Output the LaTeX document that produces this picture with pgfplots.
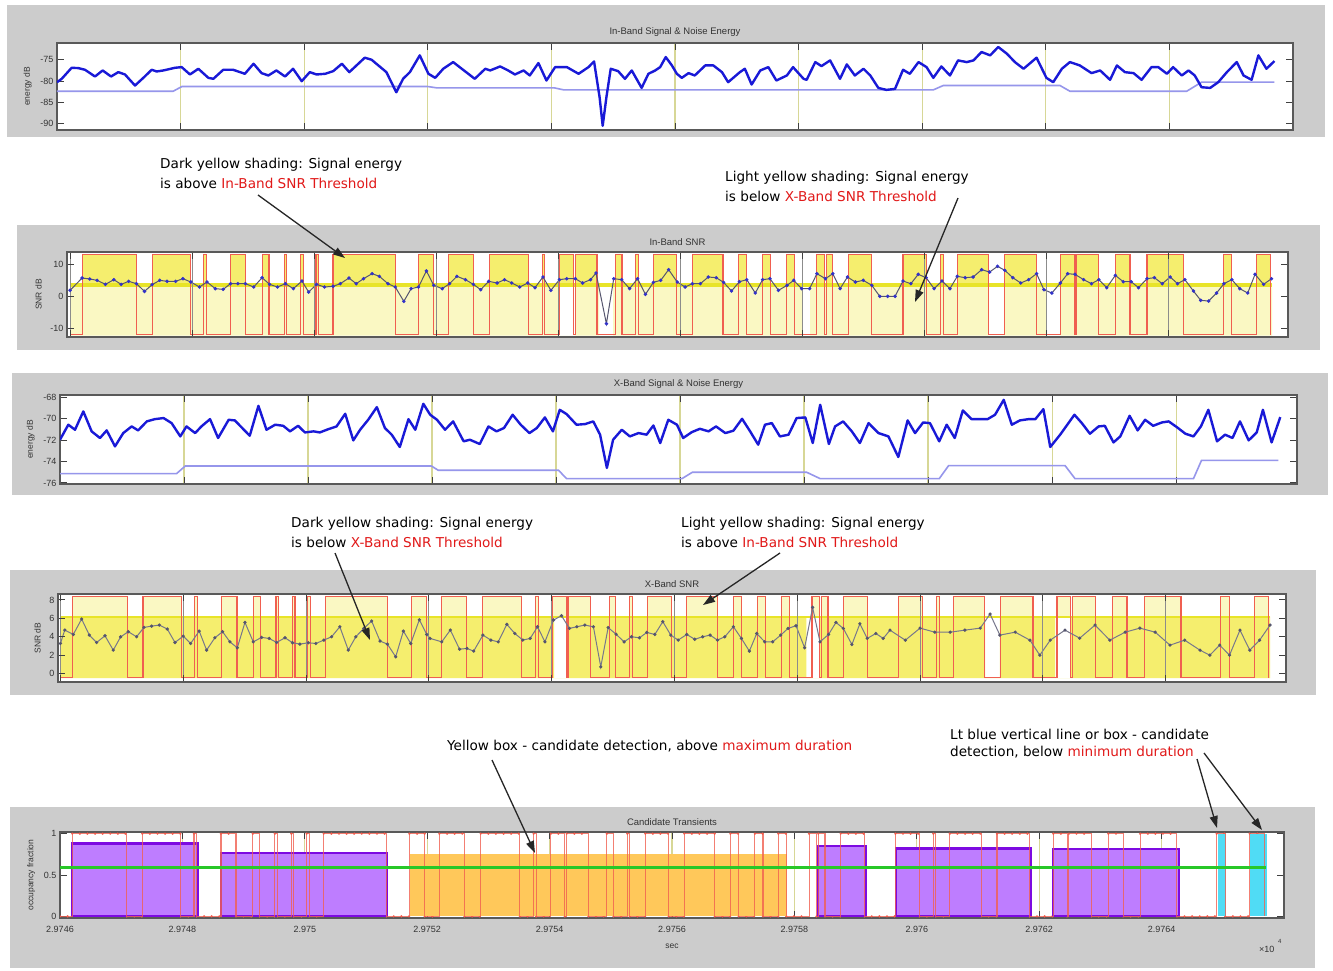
\documentclass[border=0pt]{standalone}
\usepackage{fontspec}
\setmainfont{Liberation Sans}
\newfontfamily\annfont{DejaVu Sans}
\usepackage{pgfplots}
\pgfplotsset{compat=1.18}
\usepackage{pgfplotstable}
\usetikzlibrary{arrows.meta}

\definecolor{bggray}{RGB}{204,204,204}
\definecolor{sigblue}{RGB}{25,25,215}
\definecolor{noiseblue}{RGB}{150,150,235}
\definecolor{gridyel}{RGB}{215,215,150}
\definecolor{dkyel}{RGB}{245,238,110}
\definecolor{ltyel}{RGB}{250,248,195}
\definecolor{thryel}{RGB}{232,228,40}
\definecolor{boxred}{RGB}{240,95,80}
\definecolor{snrline}{RGB}{85,85,110}
\definecolor{dotblue}{RGB}{50,50,200}
\definecolor{purp}{RGB}{190,125,255}
\definecolor{purpedge}{RGB}{125,10,225}
\definecolor{orng}{RGB}{255,200,90}
\definecolor{cyanb}{RGB}{80,220,245}
\definecolor{grn}{RGB}{40,200,40}
\definecolor{annred}{RGB}{225,25,25}

% in-band detection steps: t, panel-2 red, panel-2 fill, panel-4 red, panel-4 fill, panel-5 state
\pgfplotstableread{
t r2 f2 r4 f4 s5
0 -12 3.65 -0.44 6.18 0
0.2 13 13 8.36 8.36 1
1.09 -12 3.65 -0.44 6.18 0
1.345 13 13 8.36 8.36 1
1.97 -12 3.65 -0.44 6.18 0
2.19 13 13 8.36 8.36 1
2.23 -12 3.65 -0.44 6.18 0
2.63 13 13 8.36 8.36 1
2.875 -12 3.65 -0.44 6.18 0
3.15 13 13 8.36 8.36 1
3.26 -12 3.65 -0.44 6.18 0
3.51 13 13 8.36 8.36 1
3.55 -12 3.65 -0.44 6.18 0
3.78 13 13 8.36 8.36 1
3.82 -12 3.65 -0.44 6.18 0
4.03 13 13 8.36 8.36 1
4.07 -12 3.65 -0.44 6.18 0
4.31 13 13 8.36 8.36 1
5.33 -12 3.65 -0.44 6.18 0
5.71 13 13 8.36 8.36 1
5.96 -12 3.65 -0.44 6.18 0
6.2 13 13 8.36 8.36 1
6.61 -12 3.65 -0.44 6.18 0
6.875 13 13 8.36 8.36 1
7.515 -12 3.65 -0.44 6.18 0
7.74 13 13 8.36 8.36 1
7.78 -12 3.65 -0.44 6.18 0
8.02 13 13 8.36 8.36 1
8.25 -12 3.65 -0.44 6.18 0
8.28 13 13 8.36 8.36 1
8.635 -12 3.65 -0.44 6.18 0
8.935 13 13 8.36 8.36 1
9.045 -12 3.65 -0.44 6.18 0
9.27 13 13 8.36 8.36 1
9.31 -12 3.65 -0.44 6.18 0
9.563 13 13 8.36 8.36 1
9.946 -12 3.65 -0.44 6.18 0
10.2 13 13 8.36 8.36 1
10.7 -12 3.65 -0.44 6.18 0
10.955 13 13 8.36 8.36 1
11.09 -12 3.65 -0.44 6.18 0
11.355 13 13 8.36 8.36 1
11.486 -12 3.65 -0.44 6.18 0
11.737 13 13 8.36 8.36 1
11.868 -12 3.65 -0.44 6.18 0
12.24 13 13 8.36 8.36 1
12.36 -12 3.65 -0.44 6.18 0
12.39 13 13 8.36 8.36 1
12.5 -12 3.65 -0.44 6.18 0
12.757 13 13 8.36 8.36 1
13.14 -12 3.65 -0.44 6.18 0
13.65 13 13 8.36 8.36 1
14.04 -12 3.65 -0.44 6.18 0
14.27 13 13 8.36 8.36 1
14.31 -12 3.65 -0.44 6.18 0
14.54 13 13 8.36 8.36 1
15.05 -12 3.65 -0.44 6.18 0
15.31 13 13 8.36 8.36 1
15.84 -12 3.65 -0.44 6.18 0
16.23 13 13 8.36 8.36 1
16.455 -12 3.65 -0.44 6.18 0
16.485 13 13 8.36 8.36 1
16.85 -12 3.65 -0.44 6.18 0
17.13 13 13 8.36 8.36 1
17.37 -12 3.65 -0.44 6.18 0
17.65 13 13 8.36 8.36 1
18.25 -12 3.65 -0.44 6.18 0
18.9 13 13 8.36 8.36 1
19.04 -12 3.65 -0.44 6.18 0
19.44 13 13 8.36 8.36 1
19.68 -12 3.65 -0.44 6.18 0
}\dettab

\pgfplotsset{
 panel/.style={
  scale only axis,
  xtick={0,2,...,20}, xticklabels={},
  tick pos=both, xticklabel pos=lower, yticklabel pos=left,
  tick align=inside, major tick length=7pt,
  xmajorgrids, major grid style={draw=gridyel, line width=1.2pt},
  axis line style={draw=black!65, line width=1.2pt},
  every tick/.style={draw=black!75, line width=1pt},
  tick label style={font=\fontsize{9}{10}\selectfont, text=black!80},
  /pgf/number format/assume math mode=true,
  title style={font=\fontsize{9.5}{10}\selectfont, text=black!80, yshift=-3pt},
  ylabel style={font=\fontsize{8.5}{9}\selectfont, text=black!80, yshift=2pt},
  xlabel style={font=\fontsize{8.5}{9}\selectfont, text=black!80},
  axis background/.style={fill=white},
 }
}

\begin{document}
\begin{tikzpicture}
\fill[white] (0pt,0pt) rectangle (1333pt,-970pt);
\fill[bggray] (7pt,-5pt) rectangle (1325pt,-137pt);
\fill[bggray] (17pt,-225pt) rectangle (1320pt,-350pt);
\fill[bggray] (12pt,-373pt) rectangle (1328pt,-495pt);
\fill[bggray] (10pt,-570pt) rectangle (1316pt,-695pt);
\fill[bggray] (10pt,-807pt) rectangle (1315pt,-968pt);

% ---------------- Panel 1 ----------------
\begin{axis}[panel, at={(57pt,-130pt)}, anchor=south west, width=1236pt, height=87pt,
  xmin=0, xmax=20, ymin=-91.6, ymax=-71, ytick={-90,-85,-80,-75},
  title={In-Band Signal \& Noise Energy}, ylabel={energy dB}]
\addplot[noiseblue, line width=1.6pt] coordinates {
(0,-82.42)(1.88,-82.42)(2.02,-81.31)(6.0,-81.31)(6.15,-81.63)(8.05,-81.63)(8.2,-82.1)(14.18,-82.1)(14.34,-81.07)(16.23,-81.07)(16.39,-82.42)(18.28,-82.42)(18.52,-80.28)(19.7,-80.28)};
\addplot[sigblue, line width=2.4pt, line join=round] coordinates {
(0,-80.28)(0.076,-79.48)(0.237,-76.87)(0.345,-76.94)(0.453,-77.34)(0.615,-78.93)(0.739,-77.5)(0.874,-78.93)(0.992,-77.9)(1.1,-78.45)(1.262,-81.07)(1.397,-79.25)(1.532,-77.34)(1.613,-77.74)(1.721,-77.5)(1.909,-76.87)(2.017,-76.71)(2.152,-78.45)(2.287,-77.1)(2.449,-79.25)(2.53,-79.48)(2.69,-77.34)(2.85,-77.34)(3.04,-78.29)(3.18,-75.91)(3.31,-78.13)(3.42,-78.69)(3.55,-77.5)(3.69,-78.93)(3.82,-77.1)(3.96,-80.04)(4.09,-77.9)(4.20,-78.45)(4.34,-78.29)(4.47,-77.66)(4.61,-75.91)(4.73,-77.9)(4.98,-74.48)(5.09,-74.96)(5.20,-76.31)(5.33,-77.9)(5.49,-82.66)(5.60,-79.48)(5.71,-77.9)(5.87,-73.93)(6.01,-78.29)(6.12,-79.25)(6.25,-77.1)(6.41,-75.52)(6.76,-79.48)(6.93,-77.1)(7.01,-77.5)(7.17,-76.55)(7.30,-77.5)(7.41,-78.45)(7.55,-77.5)(7.65,-78.69)(7.79,-75.75)(7.92,-79.88)(8.06,-76.71)(8.25,-76.71)(8.44,-78.29)(8.60,-76.71)(8.69,-75.36)(8.78,-83.85)(8.83,-90.6)(8.89,-83.85)(8.96,-77.1)(9.08,-77.66)(9.19,-79.48)(9.30,-77.5)(9.46,-81.63)(9.57,-78.29)(9.68,-77.5)(9.76,-76.71)(9.85,-74.33)(9.95,-76.31)(10.03,-78.29)(10.11,-79.25)(10.22,-78.13)(10.32,-78.69)(10.49,-76.31)(10.62,-76.31)(10.76,-77.9)(10.86,-80.28)(11.05,-77.9)(11.13,-77.1)(11.24,-80.83)(11.38,-77.5)(11.51,-76.71)(11.64,-79.88)(11.81,-78.69)(11.91,-76.71)(12.08,-79.48)(12.13,-79.72)(12.27,-75.52)(12.37,-76.47)(12.51,-75.12)(12.67,-79.48)(12.78,-76.07)(12.91,-78.69)(13.05,-77.1)(13.16,-78.69)(13.29,-81.63)(13.42,-82.1)(13.56,-81.87)(13.69,-77.34)(13.80,-78.29)(13.94,-75.52)(14.07,-76.71)(14.18,-79.25)(14.31,-76.55)(14.45,-78.69)(14.58,-75.12)(14.72,-75.52)(14.83,-75.12)(14.96,-73.13)(15.10,-73.93)(15.23,-71.94)(15.37,-73.53)(15.50,-75.52)(15.64,-77.1)(15.85,-74.48)(16.01,-79.25)(16.12,-80.28)(16.26,-77.1)(16.39,-75.52)(16.55,-76.31)(16.74,-78.13)(16.88,-77.5)(17.04,-79.72)(17.15,-76.31)(17.28,-77.9)(17.42,-78.13)(17.55,-79.72)(17.71,-76.71)(17.82,-76.71)(17.96,-78.29)(18.06,-76.71)(18.20,-78.69)(18.31,-77.5)(18.41,-78.69)(18.52,-81.47)(18.66,-81.63)(18.79,-80.28)(18.93,-77.9)(19.09,-75.52)(19.20,-78.69)(19.33,-79.72)(19.44,-73.93)(19.57,-77.1)(19.70,-75.28)};
\end{axis}

% ---------------- Panel 2 ----------------
\begin{axis}[panel, axis on top, at={(67pt,-337pt)}, anchor=south west, width=1221pt, height=85pt,
  xmin=-0.05, xmax=19.96, ymin=-12.7, ymax=13.85, ytick={-10,0,10},
  major grid style={draw=black!45, line width=1pt},
  title={In-Band SNR}, ylabel={SNR dB}]
\addplot[const plot mark left, fill=ltyel, draw=none] coordinates {
(0,-12.3)(0,3.65)(8.0,-12.3)(8.28,3.65)(8.67,-12.3)(8.9,3.65)(12.0,-12.3)(12.13,3.65)(15.05,-12.3)(15.31,3.65)(16.01,-12.3)(16.23,3.65)(19.7,3.65)(19.7,-12.3)} -- cycle;
\addplot[const plot mark left, fill=dkyel, draw=none] table[x=t, y=f2] {\dettab} -- cycle;
\addplot[thryel, line width=4pt] coordinates {(0,3.65)(19.7,3.65)};
\addplot[const plot mark left, boxred, line width=1.1pt] table[x=t, y=r2] {\dettab};
\addplot[snrline, line width=1pt, mark=*, mark size=1.2pt, mark options={fill=dotblue, draw=dotblue}] coordinates {
(0,1.875)(0.198,5.73)(0.324,5.42)(0.444,5.0)(0.58,3.75)(0.717,5.21)(0.837,3.75)(0.96,4.69)(1.088,3.96)(1.22,1.56)(1.345,3.65)(1.47,5.0)(1.59,4.69)(1.73,4.69)(1.85,5.52)(1.98,4.48)(2.12,2.92)(2.245,4.48)(2.38,2.4)(2.51,2.19)(2.63,3.96)(2.75,3.96)(2.874,3.96)(3.01,2.92)(3.147,5.83)(3.27,3.75)(3.40,2.92)(3.53,3.96)(3.66,2.4)(3.80,4.79)(3.91,1.35)(4.04,3.75)(4.17,2.92)(4.31,3.13)(4.43,3.96)(4.57,5.73)(4.69,3.96)(4.81,5.52)(4.95,7.08)(5.07,6.25)(5.21,3.96)(5.33,2.92)(5.47,-1.56)(5.59,2.4)(5.71,2.92)(5.84,7.92)(5.96,3.44)(6.10,2.4)(6.22,3.96)(6.34,6.25)(6.48,5.21)(6.61,3.75)(6.73,2.08)(6.86,4.69)(6.999,4.17)(7.12,5.21)(7.24,4.17)(7.37,2.92)(7.50,4.17)(7.62,2.71)(7.75,6.04)(7.88,1.875)(8.02,5.21)(8.14,5.52)(8.28,5.52)(8.40,4.17)(8.53,5.21)(8.62,7.29)(8.79,-8.54)(8.91,5.52)(9.04,5.21)(9.17,2.4)(9.30,5.52)(9.43,0.625)(9.56,4.375)(9.68,5.0)(9.81,8.33)(9.95,4.48)(10.08,2.92)(10.20,3.96)(10.33,3.96)(10.46,6.04)(10.59,5.83)(10.71,4.375)(10.84,1.67)(10.97,4.58)(11.09,5.21)(11.23,1.04)(11.35,5.21)(11.47,5.52)(11.61,1.875)(11.75,3.44)(11.86,5.0)(11.99,2.4)(12.12,2.4)(12.24,7.08)(12.38,5.52)(12.50,7.08)(12.62,2.4)(12.74,6.04)(12.87,4.48)(13.0,5.0)(13.14,3.44)(13.27,0)(13.40,0)(13.52,0)(13.65,4.79)(13.78,3.96)(13.90,6.875)(14.03,5.83)(14.16,2.4)(14.29,4.79)(14.42,2.4)(14.54,6.25)(14.67,5.83)(14.80,6.04)(14.94,8.33)(15.07,7.6)(15.20,9.375)(15.32,8.125)(15.45,5.83)(15.58,4.17)(15.71,5.21)(15.84,7.08)(15.96,2.08)(16.09,1.04)(16.23,4.17)(16.35,7.08)(16.47,6.875)(16.61,5.21)(16.74,3.96)(16.86,5.21)(16.99,2.71)(17.13,6.56)(17.26,4.58)(17.39,4.58)(17.51,2.71)(17.65,5.52)(17.77,5.83)(17.90,3.96)(18.03,6.04)(18.15,3.96)(18.27,5.21)(18.41,1.67)(18.53,-1.25)(18.66,-1.46)(18.79,1.04)(18.91,3.96)(19.04,5.21)(19.17,2.4)(19.30,1.04)(19.42,6.875)(19.56,3.75)(19.69,5.52)};
\end{axis}

% ---------------- Panel 3 ----------------
\begin{axis}[panel, at={(60pt,-484pt)}, anchor=south west, width=1237pt, height=89pt,
  xmin=0, xmax=19.95, ymin=-76.1, ymax=-67.8, ytick={-76,-74,-72,-70,-68},
  title={X-Band Signal \& Noise Energy}, ylabel={energy dB}]
\addplot[noiseblue, line width=1.6pt] coordinates {
(0,-75.13)(1.88,-75.13)(2.02,-74.42)(5.99,-74.42)(6.1,-74.82)(8.04,-74.82)(8.17,-75.6)(10.03,-75.6)(10.2,-75.0)(12.04,-75.0)(12.26,-75.6)(14.18,-75.6)(14.33,-74.39)(16.21,-74.39)(16.37,-75.6)(18.28,-75.6)(18.41,-73.89)(19.65,-73.89)};
\addplot[sigblue, line width=2.4pt, line join=round] coordinates {
(0,-71.97)(0.134,-70.57)(0.242,-71.04)(0.376,-69.33)(0.51,-71.19)(0.645,-71.81)(0.753,-71.1)(0.887,-72.59)(1.02,-71.35)(1.156,-70.73)(1.26,-71.1)(1.40,-70.26)(1.53,-70.05)(1.67,-69.95)(1.80,-70.42)(1.94,-71.66)(2.04,-70.73)(2.18,-71.35)(2.28,-70.73)(2.42,-70.05)(2.55,-71.81)(2.72,-70.11)(2.82,-70.17)(3.06,-71.6)(3.20,-68.81)(3.33,-71.04)(3.47,-70.57)(3.60,-70.67)(3.71,-71.19)(3.84,-70.67)(3.95,-71.29)(4.09,-71.19)(4.19,-71.29)(4.33,-70.98)(4.46,-70.73)(4.60,-69.55)(4.73,-72.03)(4.84,-71.04)(4.97,-70.11)(5.11,-68.93)(5.24,-70.88)(5.35,-71.5)(5.48,-72.65)(5.62,-70.05)(5.73,-71.04)(5.86,-68.62)(5.97,-69.64)(6.08,-70.11)(6.21,-71.04)(6.34,-70.26)(6.51,-72.12)(6.61,-71.97)(6.77,-72.37)(6.91,-70.73)(7.04,-71.19)(7.16,-70.88)(7.30,-69.64)(7.43,-70.57)(7.57,-71.35)(7.69,-70.88)(7.82,-69.89)(7.95,-71.19)(8.06,-69.18)(8.17,-69.58)(8.33,-70.57)(8.47,-70.51)(8.60,-70.26)(8.71,-71.5)(8.82,-74.6)(8.92,-71.97)(9.06,-71.04)(9.19,-71.66)(9.33,-71.35)(9.46,-71.5)(9.57,-70.64)(9.68,-72.28)(9.81,-70.11)(9.95,-70.57)(10.05,-71.81)(10.19,-71.26)(10.32,-70.95)(10.46,-71.19)(10.58,-70.73)(10.73,-71.35)(10.86,-71.13)(11.0,-70.02)(11.13,-71.19)(11.26,-72.43)(11.37,-70.57)(11.48,-70.42)(11.61,-71.66)(11.75,-71.5)(11.88,-69.95)(12.02,-69.89)(12.14,-72.28)(12.26,-68.71)(12.40,-72.37)(12.50,-70.73)(12.63,-70.26)(12.77,-71.19)(12.90,-72.28)(13.04,-70.42)(13.20,-71.35)(13.36,-71.66)(13.52,-73.58)(13.67,-70.17)(13.79,-71.35)(13.92,-70.36)(14.03,-70.42)(14.18,-72.12)(14.30,-70.57)(14.43,-71.81)(14.56,-69.24)(14.70,-70.05)(14.84,-70.05)(14.96,-70.05)(15.08,-69.64)(15.22,-68.25)(15.35,-70.57)(15.48,-70.17)(15.62,-70.05)(15.73,-70.05)(15.86,-69.12)(15.97,-72.65)(16.13,-71.5)(16.36,-69.64)(16.48,-70.42)(16.61,-71.41)(16.75,-70.73)(16.85,-70.67)(16.99,-72.22)(17.10,-71.66)(17.25,-69.74)(17.38,-71.1)(17.50,-70.11)(17.63,-70.67)(17.77,-70.36)(17.88,-70.26)(18.01,-70.79)(18.15,-71.41)(18.28,-71.66)(18.40,-70.73)(18.52,-69.18)(18.66,-72.12)(18.79,-71.5)(18.91,-71.81)(19.03,-70.26)(19.17,-72.03)(19.30,-71.29)(19.40,-69.18)(19.54,-72.22)(19.68,-69.86)};
\end{axis}

% ---------------- Panel 4 ----------------
\begin{axis}[panel, axis on top, at={(58pt,-682pt)}, anchor=south west, width=1228pt, height=88pt,
  xmin=-0.04, xmax=19.96, ymin=-0.92, ymax=8.65, ytick={0,2,4,6,8},
  major grid style={draw=black!45, line width=1pt},
  title={X-Band SNR}, ylabel={SNR dB}]
\addplot[const plot mark left, fill=dkyel, draw=none] coordinates {
(0,-0.5)(0,6.18)(8.04,-0.5)(8.27,6.18)(12.15,-0.5)(12.37,6.18)(15.06,-0.5)(15.3,6.18)(16.2,-0.5)(16.45,6.18)(19.7,6.18)(19.7,-0.5)} -- cycle;
\addplot[const plot mark left, fill=ltyel, draw=none] table[x=t, y=f4] {\dettab} -- cycle;
\addplot[thryel, line width=1.8pt] coordinates {(0,6.18)(19.7,6.18)};
\addplot[const plot mark left, boxred, line width=1.1pt] table[x=t, y=r4] {\dettab};
\addplot[snrline!80, line width=1pt, mark=*, mark size=1.1pt, mark options={fill=snrline, draw=snrline}] coordinates {
(0,3.27)(0.07,4.73)(0.209,4.25)(0.345,5.93)(0.47,4.18)(0.589,3.38)(0.725,4.11)(0.86,2.55)(0.98,3.99)(1.105,4.55)(1.24,4.0)(1.36,5.02)(1.485,5.16)(1.61,5.27)(1.74,4.84)(1.865,3.38)(2.0,4.07)(2.12,3.27)(2.26,4.62)(2.38,2.55)(2.515,3.89)(2.64,4.55)(2.76,3.45)(2.88,2.8)(3.005,5.56)(3.14,3.45)(3.276,3.93)(3.40,3.82)(3.52,3.38)(3.657,3.89)(3.78,3.35)(3.90,3.2)(4.037,3.35)(4.16,3.27)(4.29,3.64)(4.416,4.0)(4.55,5.09)(4.688,2.55)(4.81,4.0)(4.94,4.91)(5.068,5.71)(5.205,3.53)(5.325,3.2)(5.46,1.82)(5.585,4.62)(5.705,3.27)(5.845,5.85)(5.965,4.25)(6.02,3.82)(6.21,3.45)(6.35,4.73)(6.50,2.65)(6.62,2.73)(6.73,2.44)(6.88,4.18)(7.01,3.64)(7.13,3.45)(7.27,5.35)(7.40,4.36)(7.53,3.64)(7.65,3.82)(7.77,5.09)(7.89,3.45)(8.03,5.82)(8.16,6.29)(8.29,4.91)(8.41,5.09)(8.54,5.27)(8.68,5.09)(8.80,0.73)(8.92,5.0)(9.05,4.27)(9.18,3.45)(9.30,4.0)(9.43,3.89)(9.55,4.47)(9.68,4.25)(9.81,5.64)(9.94,4.18)(10.06,3.64)(10.20,4.25)(10.33,3.73)(10.46,4.0)(10.58,4.18)(10.70,3.64)(10.82,4.0)(10.96,5.09)(11.09,3.82)(11.22,2.44)(11.34,4.36)(11.47,3.45)(11.60,3.45)(11.73,4.18)(11.85,4.91)(11.98,5.2)(12.12,2.8)(12.25,7.2)(12.37,3.45)(12.51,4.25)(12.63,5.56)(12.75,4.91)(12.89,3.16)(13.02,5.42)(13.14,3.82)(13.28,4.36)(13.40,3.82)(13.51,4.72)(13.76,3.63)(14.0,4.94)(14.24,4.5)(14.49,4.5)(14.73,4.72)(14.98,4.94)(15.14,6.47)(15.3,4.18)(15.55,4.5)(15.79,3.63)(15.95,2.0)(16.12,3.63)(16.36,4.72)(16.6,3.85)(16.85,5.27)(17.09,3.63)(17.34,4.5)(17.58,4.94)(17.83,4.5)(18.07,3.09)(18.31,3.63)(18.56,2.54)(18.72,2.0)(18.88,3.09)(19.04,2.0)(19.21,4.72)(19.37,2.54)(19.53,3.63)(19.7,5.27)};
\end{axis}

% ---------------- Panel 5 ----------------
\begin{axis}[panel, at={(60pt,-918pt)}, anchor=south west, width=1224pt, height=86pt,
  xmin=0, xmax=20, ymin=-0.02, ymax=1.02, ytick={0,0.5,1},
  xticklabels={2.9746,2.9748,2.975,2.9752,2.9754,2.9756,2.9758,2.976,2.9762,2.9764,},
  xticklabel style={yshift=-5pt},
  title={Candidate Transients}, ylabel={occupancy fraction}, xlabel={sec},
  xlabel style={yshift=-4pt}]
\addplot[jump mark left, boxred, line width=2.6pt, line cap=round, dash pattern=on 0pt off 7.6pt] table[x=t, y=s5] {\dettab};
\addplot[fill=purp, draw=purpedge, line width=2.2pt] coordinates {(0.2,0)(0.2,0.88)(2.25,0.88)(2.25,0)} -- cycle;
\addplot[fill=purp, draw=purpedge, line width=2.2pt] coordinates {(2.63,0)(2.63,0.77)(5.34,0.77)(5.34,0)} -- cycle;
\addplot[fill=orng, draw=none] coordinates {(5.72,0)(5.72,0.76)(11.88,0.76)(11.88,0)} -- cycle;
\addplot[fill=purp, draw=purpedge, line width=2.2pt] coordinates {(12.39,0)(12.39,0.85)(13.17,0.85)(13.17,0)} -- cycle;
\addplot[fill=purp, draw=purpedge, line width=2.2pt] coordinates {(13.66,0)(13.66,0.82)(15.86,0.82)(15.86,0)} -- cycle;
\addplot[fill=purp, draw=purpedge, line width=2.2pt] coordinates {(16.23,0)(16.23,0.81)(18.28,0.81)(18.28,0)} -- cycle;
\addplot[fill=cyanb, draw=none] coordinates {(18.92,0)(18.92,1)(19.06,1)(19.06,0)} -- cycle;
\addplot[fill=cyanb, draw=none] coordinates {(19.44,0)(19.44,1)(19.72,1)(19.72,0)} -- cycle;
\addplot[const plot mark left, boxred, line width=1.1pt, opacity=0.8] table[x=t, y=s5] {\dettab};
\addplot[grn, line width=2.6pt] coordinates {(0,0.59)(19.7,0.59)};
\end{axis}

\node[anchor=base west, inner sep=0, font=\fontsize{9}{10}\selectfont, text=black!80] at (1259pt,-952pt) {×10};
\node[anchor=base west, inner sep=0, font=\fontsize{6}{7}\selectfont, text=black!80] at (1278pt,-943pt) {4};

% ---------------- Annotations ----------------
\begin{scope}[every node/.style={anchor=west, inner sep=0, font=\annfont\fontsize{13.6}{15}\selectfont}]
\node at (160pt,-165pt) {Dark yellow shading: Signal energy};
\node at (160pt,-183pt) {is above \textcolor{annred}{In-Band SNR Threshold}};
\node at (725pt,-178pt) {Light yellow shading: Signal energy};
\node at (725pt,-196pt) {is below \textcolor{annred}{X-Band SNR Threshold}};
\node at (291pt,-524pt) {Dark yellow shading: Signal energy};
\node at (291pt,-542pt) {is below \textcolor{annred}{X-Band SNR Threshold}};
\node at (681pt,-524pt) {Light yellow shading: Signal energy};
\node at (681pt,-542pt) {is above \textcolor{annred}{In-Band SNR Threshold}};
\node at (447pt,-746pt) {Yellow box - candidate detection, above \textcolor{annred}{maximum duration}};
\node at (950pt,-734pt) {Lt blue vertical line or box - candidate};
\node at (950pt,-752pt) {detection, below \textcolor{annred}{minimum duration}};
\end{scope}
\begin{scope}[black!85, line width=1.3pt, -{Triangle[length=12pt, width=8pt]}]
\draw (258pt,-195pt) -- (345pt,-258pt);
\draw (958pt,-198pt) -- (915pt,-302pt);
\draw (335pt,-553pt) -- (370pt,-640pt);
\draw (780pt,-553pt) -- (703pt,-605pt);
\draw (492pt,-760pt) -- (535pt,-853pt);
\draw (1197pt,-759pt) -- (1217pt,-828pt);
\draw (1204pt,-753pt) -- (1262pt,-830pt);
\end{scope}
\end{tikzpicture}
\end{document}
